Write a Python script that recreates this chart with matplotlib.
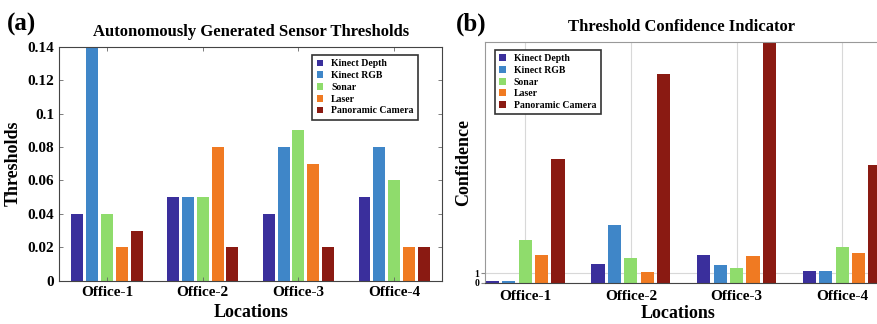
import numpy as np
import matplotlib
matplotlib.use('Agg')
import matplotlib.pyplot as plt

# ---------------- data ----------------
locations = ['Office-1', 'Office-2', 'Office-3', 'Office-4']
sensors = ['Kinect Depth', 'Kinect RGB', 'Sonar', 'Laser', 'Panoramic Camera']
colors = ['#3a2f9c', '#3f86c8', '#8fdc6c', '#f07a22', '#8a1a12']

# thresholds per sensor (one list per sensor, one value per location)
kinect_depth_thr = [0.04, 0.05, 0.04, 0.05]
kinect_rgb_thr = [0.14, 0.05, 0.08, 0.08]
sonar_thr = [0.04, 0.05, 0.09, 0.06]
laser_thr = [0.02, 0.08, 0.07, 0.02]
panoramic_thr = [0.03, 0.02, 0.02, 0.02]

# confidence per sensor
kinect_depth_conf = [0.15, 2.0, 3.0, 1.3]
kinect_rgb_conf = [0.15, 6.2, 1.9, 1.3]
sonar_conf = [4.6, 2.6, 1.6, 3.8]
laser_conf = [3.0, 1.1, 2.9, 3.2]
panoramic_conf = [13.3, 22.4, 27.0, 12.6]

thresholds = [kinect_depth_thr, kinect_rgb_thr, sonar_thr, laser_thr, panoramic_thr]
confidence = [kinect_depth_conf, kinect_rgb_conf, sonar_conf, laser_conf, panoramic_conf]

plt.rcParams['font.family'] = ['Liberation Serif', 'DejaVu Serif']
plt.rcParams['font.weight'] = 'bold'

fig = plt.figure(figsize=(8.78, 3.24), dpi=100)

x = np.arange(1, len(locations) + 1)
slot = 0.155
width = 0.125


def grouped_bars(ax, series):
    for i, vals in enumerate(series):
        ax.bar(x + (i - 2) * slot, vals, width, color=colors[i], label=sensors[i])


def boxed_legend(ax, loc, anchor):
    leg = ax.legend(loc=loc, bbox_to_anchor=anchor, fontsize=7,
                    handlelength=0.7, handleheight=0.7, handletextpad=0.8,
                    labelspacing=0.28, borderpad=0.45, fancybox=False, framealpha=1)
    leg.get_frame().set_edgecolor('#333333')
    leg.get_frame().set_linewidth(1.2)
    return leg


# ---------------- (a) thresholds ----------------
ax1 = fig.add_axes([0.0675, 0.1336, 0.4359, 0.7222])
grouped_bars(ax1, thresholds)
ax1.set_xlim(0.5, 4.5)
ax1.set_ylim(0, 0.14)
ax1.set_xticks(x)
ax1.set_xticklabels(locations, fontsize=11, fontweight='bold')
yt = np.arange(0, 0.141, 0.02)
ax1.set_yticks(yt)
ax1.set_yticklabels(['0', '0.02', '0.04', '0.06', '0.08', '0.1', '0.12', '0.14'],
                    fontsize=11, fontweight='bold')
ax1.tick_params(direction='in', length=3, top=True, right=True, width=0.6, color='#666666')
for s in ax1.spines.values():
    s.set_color('#444444')
    s.set_linewidth(0.8)
ax1.set_title('Autonomously Generated Sensor Thresholds', fontsize=12, fontweight='bold', pad=8)
ax1.set_xlabel('Locations', fontsize=13, fontweight='bold', labelpad=4)
ax1.set_ylabel('Thresholds', fontsize=13, fontweight='bold', labelpad=4)
boxed_legend(ax1, 'upper right', (0.95, 0.985))

# ---------------- (b) confidence ----------------
ax2 = fig.add_axes([0.5524, 0.1275, 0.467, 0.7414])
ax2.set_axisbelow(True)
grouped_bars(ax2, confidence)
ax2.set_xlim(0.62, 4.5)
ax2.set_ylim(0, 25.8)
ax2.set_xticks(x)
ax2.set_xticklabels(locations, fontsize=11, fontweight='bold')
ax2.set_yticks([0, 1])
ax2.set_yticklabels(['0', '1'], fontsize=7, fontweight='bold')
ax2.tick_params(axis='y', length=3, pad=1, color='#888888')
ax2.tick_params(axis='x', length=0, pad=5)
ax2.grid(True, color='#d8d8d8', linewidth=0.8)
for s in ax2.spines.values():
    s.set_color('#999999')
    s.set_linewidth(0.8)
ax2.spines['bottom'].set_color('#444444')
ax2.set_title('Threshold Confidence Indicator', fontsize=12, fontweight='bold',
              pad=8, x=0.48)
ax2.set_xlabel('Locations', fontsize=13, fontweight='bold')
ax2.xaxis.set_label_coords(0.47, -0.092)
ax2.set_ylabel('Confidence', fontsize=13, fontweight='bold', labelpad=2)
boxed_legend(ax2, 'upper left', (0.012, 0.99))

fig.text(0.008, 0.925, '(a)', fontsize=18, fontweight='bold', va='center')
fig.text(0.519, 0.925, '(b)', fontsize=18, fontweight='bold', va='center')

fig.savefig('out.png', dpi=100)
